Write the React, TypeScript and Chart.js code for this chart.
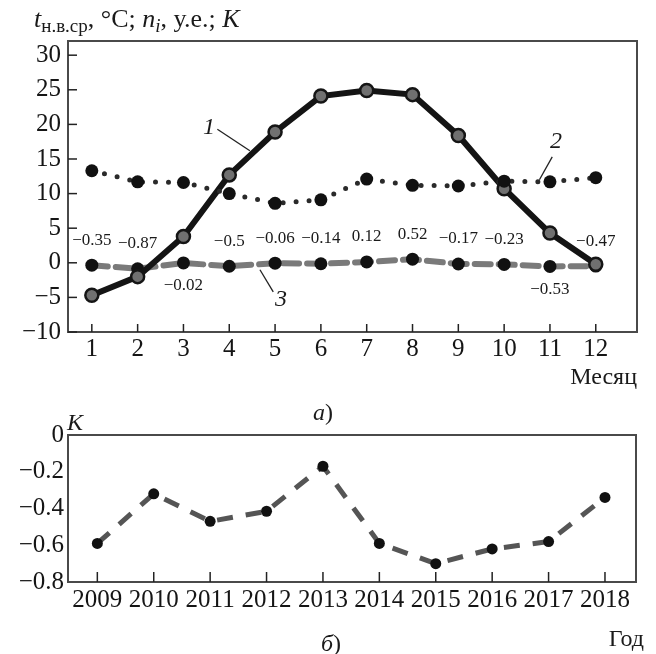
import React, { useEffect, useRef } from "react";
import { Chart, registerables } from "chart.js";

Chart.register(...registerables);

const SERIF = "'Liberation Serif', 'Times New Roman', serif";

// ---------- Data: chart (a) ----------
const months = [1, 2, 3, 4, 5, 6, 7, 8, 9, 10, 11, 12];
const temperature = [-4.7, -2.0, 3.8, 12.7, 18.9, 24.1, 24.9, 24.3, 18.4, 10.7, 4.3, -0.2];
const niValues = [13.3, 11.7, 11.6, 10.0, 8.6, 9.1, 12.1, 11.2, 11.1, 11.8, 11.7, 12.3];
const kMonthly = [-0.35, -0.87, -0.02, -0.5, -0.06, -0.14, 0.12, 0.52, -0.17, -0.23, -0.53, -0.47];
const kMonthlyLabels = ["−0.35", "−0.87", "−0.02", "−0.5", "−0.06", "−0.14", "0.12", "0.52", "−0.17", "−0.23", "−0.53", "−0.47"];
const kLabelBelow = [false, false, true, false, false, false, false, false, false, false, true, false];
const topYTicks = [-10, -5, 0, 5, 10, 15, 20, 25, 30];

// ---------- Data: chart (б) ----------
const years = [2009, 2010, 2011, 2012, 2013, 2014, 2015, 2016, 2017, 2018];
const kYearly = [-0.59, -0.32, -0.47, -0.415, -0.17, -0.59, -0.70, -0.62, -0.58, -0.34];
const bottomYTicks = [-0.8, -0.6, -0.4, -0.2, 0];
const bottomYTickLabels = ["−0.8", "−0.6", "−0.4", "−0.2", "0"];

type Part = { text: string; size: number; italic?: boolean; dy?: number };

function drawRich(ctx: CanvasRenderingContext2D, x: number, y: number, parts: Part[]) {
  ctx.textBaseline = "alphabetic";
  ctx.textAlign = "left";
  for (const p of parts) {
    ctx.font = `${p.italic ? "italic " : ""}${p.size}px ${SERIF}`;
    ctx.fillText(p.text, x, y + (p.dy || 0));
    x += ctx.measureText(p.text).width;
  }
}

const frameTicksPlugin = {
  id: "frameTicks",
  beforeDatasetsDraw(chart: any, _args: any, opts: any) {
    const { ctx, chartArea: a, scales } = chart;
    ctx.save();
    ctx.strokeStyle = "#4a4a4a";
    ctx.lineWidth = 2;
    ctx.strokeRect(a.left, a.top, a.right - a.left, a.bottom - a.top);
    ctx.strokeStyle = "#222";
    ctx.lineWidth = 1.5;
    for (const t of scales.x.ticks) {
      const px = scales.x.getPixelForValue(t.value);
      ctx.beginPath();
      ctx.moveTo(px, a.bottom);
      ctx.lineTo(px, a.bottom - opts.xLen);
      ctx.stroke();
    }
    if (opts.yLen) {
      for (const t of scales.y.ticks) {
        const py = scales.y.getPixelForValue(t.value);
        ctx.beginPath();
        ctx.moveTo(a.left, py);
        ctx.lineTo(a.left + opts.yLen, py);
        ctx.stroke();
      }
    }
    ctx.restore();
  },
};

const topAnnotations = {
  id: "topAnnotations",
  afterDraw(chart: any) {
    const { ctx, chartArea: a, scales } = chart;
    const X = (v: number) => scales.x.getPixelForValue(v);
    const Y = (v: number) => scales.y.getPixelForValue(v);
    ctx.save();
    ctx.fillStyle = "#1a1a1a";
    // axis title
    drawRich(ctx, 34, 27, [
      { text: "t", size: 26, italic: true },
      { text: "н.в.ср", size: 19, dy: 5 },
      { text: ", °C; ", size: 26 },
      { text: "n", size: 26, italic: true },
      { text: "i", size: 19, italic: true, dy: 5 },
      { text: ", у.е.; ", size: 26 },
      { text: "K", size: 26, italic: true },
    ]);
    // K value labels
    ctx.font = `17px ${SERIF}`;
    ctx.textAlign = "center";
    ctx.textBaseline = "middle";
    months.forEach((m, i) => {
      const py = Y(kMonthly[i]);
      ctx.fillText(kMonthlyLabels[i], X(m), kLabelBelow[i] ? py + 23 : py - 25);
    });
    // curve numbers with leaders
    ctx.font = `italic 24px ${SERIF}`;
    const notes = [
      { t: "1", tx: 3.56, ty: 19.5, x1: 3.74, y1: 19.3, x2: 4.45, y2: 16.2 },
      { t: "2", tx: 11.13, ty: 17.5, x1: 11.05, y1: 15.3, x2: 10.77, y2: 12.0 },
      { t: "3", tx: 5.13, ty: -5.3, x1: 4.67, y1: -1.0, x2: 4.96, y2: -4.2 },
    ];
    ctx.strokeStyle = "#222";
    ctx.lineWidth = 1.3;
    for (const n of notes) {
      ctx.fillText(n.t, X(n.tx), Y(n.ty));
      ctx.beginPath();
      ctx.moveTo(X(n.x1), Y(n.y1));
      ctx.lineTo(X(n.x2), Y(n.y2));
      ctx.stroke();
    }
    // axis name
    ctx.font = `24px ${SERIF}`;
    ctx.textAlign = "right";
    ctx.fillText("Месяц", a.right, 378);
    // panel label
    drawRich(ctx, 313, 420, [
      { text: "а", size: 24, italic: true },
      { text: ")", size: 24 },
    ]);
    ctx.restore();
  },
};

const bottomAnnotations = {
  id: "bottomAnnotations",
  afterDraw(chart: any) {
    const { ctx, chartArea: a } = chart;
    ctx.save();
    ctx.fillStyle = "#1a1a1a";
    drawRich(ctx, a.left - 1, a.top - 5, [{ text: "K", size: 24, italic: true }]);
    ctx.font = `24px ${SERIF}`;
    ctx.textAlign = "right";
    ctx.textBaseline = "middle";
    ctx.fillText("Год", a.right + 8, 240);
    drawRich(ctx, 321, 251, [
      { text: "б", size: 24, italic: true },
      { text: ")", size: 24 },
    ]);
    ctx.restore();
  },
};

export default function App() {
  const topRef = useRef<HTMLCanvasElement>(null);
  const botRef = useRef<HTMLCanvasElement>(null);

  useEffect(() => {
    const tickFont = { family: SERIF, size: 25 };
    const top = new Chart(topRef.current!, {
      type: "line",
      data: {
        datasets: [
          {
            label: "t",
            data: months.map((m, i) => ({ x: m, y: temperature[i] })),
            borderColor: "#141414",
            borderWidth: 6,
            pointRadius: 6.5,
            pointBackgroundColor: "#707070",
            pointBorderColor: "#151515",
            pointBorderWidth: 2.5,
            order: 1,
          },
          {
            label: "n",
            data: months.map((m, i) => ({ x: m, y: niValues[i] })),
            borderColor: "#2a2a2a",
            borderWidth: 5,
            borderDash: [0, 13],
            borderCapStyle: "round",
            pointRadius: 6.5,
            pointBackgroundColor: "#111",
            pointBorderColor: "#111",
            pointBorderWidth: 0,
            order: 0,
          },
          {
            label: "K",
            data: months.map((m, i) => ({ x: m, y: kMonthly[i] })),
            borderColor: "#7a7a7a",
            borderWidth: 6,
            borderDash: [16, 8],
            borderCapStyle: "round",
            pointRadius: 6.5,
            pointBackgroundColor: "#111",
            pointBorderColor: "#111",
            pointBorderWidth: 0,
            order: 2,
          },
        ],
      },
      options: {
        animation: false,
        responsive: false,
        layout: { padding: { top: 41, right: 19, left: 0, bottom: 0 } },
        plugins: { legend: { display: false }, tooltip: { enabled: false }, frameTicks: { xLen: 8, yLen: 9 } } as any,
        scales: {
          x: {
            type: "linear",
            min: 0.48,
            max: 12.9,
            grid: { display: false, drawTicks: false },
            border: { display: false },
            afterBuildTicks: (s: any) => { s.ticks = months.map((v) => ({ value: v })); },
            afterFit: (s: any) => { s.height = 98; },
            ticks: { font: tickFont, color: "#151515", padding: 2, maxRotation: 0, autoSkip: false, callback: (v: any) => String(v) },
          },
          y: {
            type: "linear",
            min: -10,
            max: 32.05,
            grid: { display: false, drawTicks: false },
            border: { display: false },
            afterBuildTicks: (s: any) => { s.ticks = topYTicks.map((v) => ({ value: v })); },
            afterFit: (s: any) => { s.width = 68; },
            ticks: { font: tickFont, color: "#151515", padding: 7, callback: (v: any) => (v < 0 ? "−" + Math.abs(v) : String(v)) },
          },
        },
      },
      plugins: [frameTicksPlugin, topAnnotations],
    });

    const bot = new Chart(botRef.current!, {
      type: "line",
      data: {
        datasets: [
          {
            label: "K",
            data: years.map((yr, i) => ({ x: yr, y: kYearly[i] })),
            borderColor: "#555",
            borderWidth: 5,
            borderDash: [16, 13],
            pointRadius: 5.5,
            pointBackgroundColor: "#111",
            pointBorderColor: "#111",
            pointBorderWidth: 0,
          },
        ],
      },
      options: {
        animation: false,
        responsive: false,
        layout: { padding: { top: 35, right: 20, left: 0, bottom: 0 } },
        plugins: { legend: { display: false }, tooltip: { enabled: false }, frameTicks: { xLen: 10, yLen: 0 } } as any,
        scales: {
          x: {
            type: "linear",
            min: 2008.48,
            max: 2018.55,
            grid: { display: false, drawTicks: false },
            border: { display: false },
            afterBuildTicks: (s: any) => { s.ticks = years.map((v) => ({ value: v })); },
            afterFit: (s: any) => { s.height = 72; },
            ticks: { font: tickFont, color: "#151515", padding: 3, maxRotation: 0, autoSkip: false, callback: (v: any) => String(v) },
          },
          y: {
            type: "linear",
            min: -0.8,
            max: 0,
            grid: { display: false, drawTicks: false },
            border: { display: false },
            afterBuildTicks: (s: any) => { s.ticks = bottomYTicks.map((v) => ({ value: v })); },
            afterFit: (s: any) => { s.width = 68; },
            ticks: {
              font: tickFont,
              color: "#151515",
              padding: 4,
              callback: (v: any) => {
                const i = bottomYTicks.findIndex((t) => Math.abs(t - v) < 1e-6);
                return i >= 0 ? bottomYTickLabels[i] : "";
              },
            },
          },
        },
      },
      plugins: [frameTicksPlugin, bottomAnnotations],
    });

    return () => {
      top.destroy();
      bot.destroy();
    };
  }, []);

  return (
    <div style={{ position: "absolute", left: 0, top: 0, width: 656, height: 654, background: "#fff" }}>
      <canvas ref={topRef} width={656} height={430} style={{ position: "absolute", left: 0, top: 0, width: 656, height: 430 }} />
      <canvas ref={botRef} width={656} height={254} style={{ position: "absolute", left: 0, top: 400, width: 656, height: 254 }} />
    </div>
  );
}
